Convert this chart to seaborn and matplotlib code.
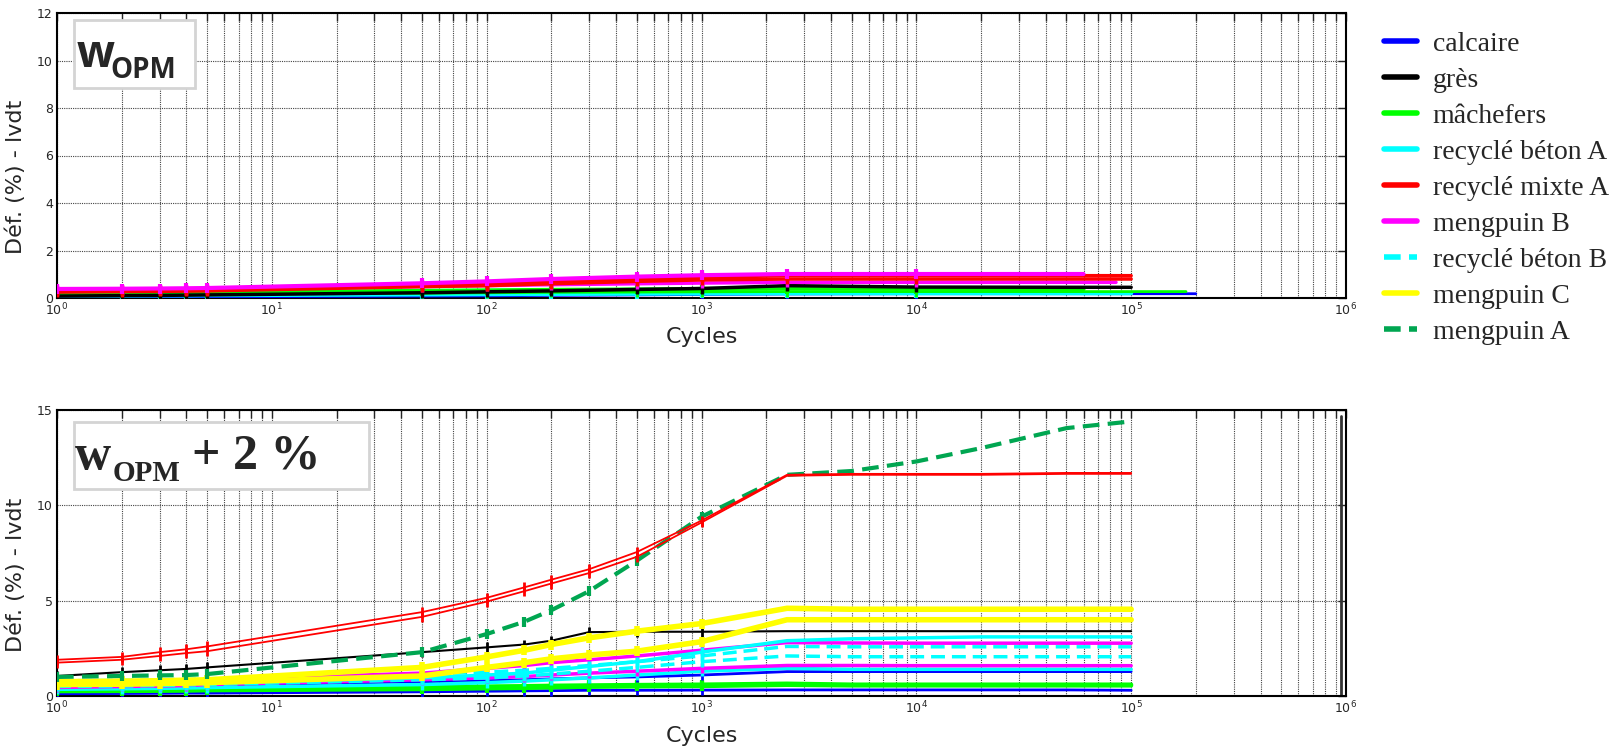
import numpy as np
import pandas as pd
import seaborn as sns
import matplotlib.pyplot as plt
from matplotlib.lines import Line2D
from matplotlib.patches import Rectangle
from matplotlib.ticker import LogLocator, NullFormatter

# --- legend / materials
MATERIALS = ["calcaire", "grès", "mâchefers", "recyclé béton A", "recyclé mixte A",
             "mengpuin B", "recyclé béton B", "mengpuin C", "mengpuin A"]
COLORS = ["#0000ff", "#000000", "#00ff00", "#00ffff", "#ff0000",
          "#ff00ff", "#00ffff", "#ffff00", "#00a651"]
DASHED = ["recyclé béton B", "mengpuin A"]

# --- top panel (w_OPM)
CYCLES_TOP = [1, 2, 3, 4, 5, 50, 100, 200, 500, 1000, 2500, 10000, 60000, 85000, 100000, 180000, 200000]
top_calcaire = [0.03, 0.04, 0.04, 0.05, 0.05, 0.08, 0.09, 0.11, 0.13, 0.15, 0.17, 0.18, 0.18, 0.18, 0.18, 0.18, 0.18]
top_gres = [0.08, 0.1, 0.11, 0.12, 0.13, 0.22, 0.26, 0.3, 0.36, 0.4, 0.52, 0.46, 0.45, 0.45, 0.45]
top_machefers_1 = [0.2, 0.21, 0.22, 0.22, 0.23, 0.3, 0.32, 0.34, 0.36, 0.38, 0.4, 0.39, 0.38]
top_machefers_2 = [0.14, 0.15, 0.15, 0.16, 0.16, 0.2, 0.22, 0.24, 0.25, 0.26, 0.27, 0.27, 0.27, 0.27, 0.27, 0.27]
top_beton_a = [0.1, 0.1, 0.11, 0.11, 0.12, 0.15, 0.16, 0.17, 0.18, 0.19, 0.2, 0.2, 0.2, 0.2, 0.2]
top_mixte_1 = [0.3, 0.32, 0.33, 0.34, 0.35, 0.55, 0.6, 0.7, 0.8, 0.87, 0.94, 0.94, 0.94, 0.94, 0.94]
top_mixte_2 = [0.25, 0.27, 0.28, 0.29, 0.3, 0.48, 0.52, 0.6, 0.7, 0.76, 0.8, 0.8, 0.8, 0.8, 0.8]
top_mengpuin_b_1 = [0.38, 0.39, 0.4, 0.41, 0.42, 0.62, 0.7, 0.8, 0.9, 0.96, 1.01, 1.01, 1.01]
top_mengpuin_b_2 = [0.32, 0.33, 0.34, 0.35, 0.36, 0.48, 0.52, 0.56, 0.6, 0.63, 0.66, 0.66, 0.66, 0.66]

# --- bottom panel (w_OPM + 2 %)
CYCLES_BOT = [1, 2, 3, 4, 5, 50, 100, 150, 200, 300, 500, 1000, 2500, 5000, 10000, 20000, 50000, 100000]
bot_calcaire_1 = [0.45, 0.48, 0.5, 0.52, 0.55, 0.75, 0.8, 0.85, 0.9, 0.95, 1.0, 1.1, 1.28, 1.28, 1.28, 1.28, 1.28, 1.28]
bot_calcaire_2 = [0.12, 0.13, 0.14, 0.15, 0.15, 0.22, 0.25, 0.27, 0.28, 0.3, 0.3, 0.31, 0.32, 0.32, 0.32, 0.32, 0.32, 0.3]
bot_gres = [1.05, 1.25, 1.35, 1.42, 1.5, 2.3, 2.55, 2.7, 2.9, 3.35, 3.37, 3.37, 3.4, 3.4, 3.4, 3.4, 3.4, 3.4]
bot_machefers_1 = [0.38, 0.39, 0.4, 0.41, 0.42, 0.48, 0.5, 0.52, 0.54, 0.56, 0.58, 0.6, 0.65, 0.6, 0.6, 0.6, 0.6, 0.6]
bot_machefers_2 = [0.25, 0.26, 0.27, 0.28, 0.3, 0.36, 0.4, 0.42, 0.45, 0.48, 0.5, 0.52, 0.58, 0.55, 0.55, 0.55, 0.55, 0.55]
bot_beton_a_1 = [0.55, 0.6, 0.62, 0.64, 0.66, 0.95, 1.1, 1.2, 1.35, 1.55, 1.8, 2.3, 2.9, 3.0, 3.05, 3.1, 3.1, 3.1]
bot_beton_a_2 = [0.35, 0.38, 0.4, 0.42, 0.44, 0.6, 0.7, 0.78, 0.85, 0.95, 1.1, 1.3, 1.45, 1.4, 1.4, 1.4, 1.4, 1.4]
bot_mixte_1 = [1.9, 2.05, 2.3, 2.45, 2.6, 4.4, 5.15, 5.7, 6.1, 6.65, 7.55, 9.2, 11.6, 11.65, 11.65, 11.65, 11.7, 11.7]
bot_mixte_2 = [1.75, 1.9, 2.1, 2.25, 2.35, 4.15, 4.95, 5.5, 5.9, 6.45, 7.3, 9.1, 11.55, 11.6, 11.6, 11.6, 11.65, 11.65]
bot_mengpuin_b_1 = [0.7, 0.75, 0.8, 0.82, 0.85, 1.2, 1.45, 1.6, 1.75, 1.9, 2.1, 2.4, 2.8, 2.78, 2.77, 2.77, 2.77, 2.77]
bot_mengpuin_b_2 = [0.45, 0.5, 0.52, 0.55, 0.6, 0.85, 0.95, 1.02, 1.1, 1.2, 1.3, 1.45, 1.6, 1.6, 1.59, 1.59, 1.59, 1.59]
bot_beton_b_1 = [0.8, 0.82, 0.85, 0.87, 0.9, 1.15, 1.25, 1.35, 1.45, 1.6, 1.8, 2.1, 2.6, 2.58, 2.58, 2.58, 2.58, 2.58]
bot_beton_b_2 = [0.5, 0.52, 0.55, 0.57, 0.6, 0.85, 0.95, 1.05, 1.15, 1.3, 1.5, 1.8, 2.1, 2.06, 2.06, 2.06, 2.06, 2.06]
bot_mengpuin_c_1 = [0.75, 0.78, 0.8, 0.83, 0.85, 1.5, 2.05, 2.4, 2.7, 3.05, 3.4, 3.8, 4.6, 4.55, 4.55, 4.55, 4.55, 4.55]
bot_mengpuin_c_2 = [0.6, 0.62, 0.65, 0.67, 0.7, 1.05, 1.5, 1.75, 1.95, 2.15, 2.35, 2.85, 4.0, 4.0, 4.0, 4.0, 4.0, 4.0]
bot_mengpuin_a = [1.0, 1.05, 1.08, 1.1, 1.15, 2.3, 3.25, 3.9, 4.5, 5.5, 7.1, 9.4, 11.6, 11.8, 12.3, 13.0, 14.05, 14.4]

# stray vertical trace near 1e6 in the bottom panel
ARTEFACT_X = [950000, 950000]
ARTEFACT_Y = [0, 14.7]

W, H = 1618, 749
sns.set_style("white")
plt.rcParams["font.family"] = ["DejaVu Sans"]

fig = plt.figure(figsize=(W / 100, H / 100), dpi=100)
ax_top = fig.add_axes([57 / W, 1 - 298 / H, 1289 / W, 285 / H])
ax_bot = fig.add_axes([57 / W, 1 - 696 / H, 1289 / W, 286 / H])

color_of = dict(zip(MATERIALS, COLORS))


def draw(ax, x, y, material, lw, n_mark=12, ms=7):
    ls = (0, (4, 2)) if material in DASHED else "-"
    c = color_of[material]
    sns.lineplot(x=x[:len(y)], y=y, ax=ax, color=c, lw=lw, linestyle=ls,
                 marker="|", markersize=ms, markeredgewidth=max(lw, 2), markeredgecolor=c,
                 markevery=slice(0, n_mark), estimator=None, sort=False, zorder=3)


# top panel
draw(ax_top, CYCLES_TOP, top_calcaire, "calcaire", 2)
draw(ax_top, CYCLES_TOP, top_beton_a, "recyclé béton A", 3)
draw(ax_top, CYCLES_TOP, top_machefers_2, "mâchefers", 2)
draw(ax_top, CYCLES_TOP, top_machefers_1, "mâchefers", 3)
draw(ax_top, CYCLES_TOP, top_gres, "grès", 2.5)
draw(ax_top, CYCLES_TOP, top_mengpuin_b_2, "mengpuin B", 2.5)
draw(ax_top, CYCLES_TOP, top_mixte_2, "recyclé mixte A", 2.5)
draw(ax_top, CYCLES_TOP, top_mixte_1, "recyclé mixte A", 2.5)
draw(ax_top, CYCLES_TOP, top_mengpuin_b_1, "mengpuin B", 3)

# bottom panel
draw(ax_bot, CYCLES_BOT, bot_calcaire_2, "calcaire", 2)
draw(ax_bot, CYCLES_BOT, bot_machefers_2, "mâchefers", 3)
draw(ax_bot, CYCLES_BOT, bot_machefers_1, "mâchefers", 3)
draw(ax_bot, CYCLES_BOT, bot_calcaire_1, "calcaire", 2)
draw(ax_bot, CYCLES_BOT, bot_beton_a_2, "recyclé béton A", 2.5)
draw(ax_bot, CYCLES_BOT, bot_mengpuin_b_2, "mengpuin B", 2.5)
draw(ax_bot, CYCLES_BOT, bot_beton_b_2, "recyclé béton B", 2.5)
draw(ax_bot, CYCLES_BOT, bot_beton_b_1, "recyclé béton B", 2.5)
draw(ax_bot, CYCLES_BOT, bot_mengpuin_b_1, "mengpuin B", 2.5)
draw(ax_bot, CYCLES_BOT, bot_beton_a_1, "recyclé béton A", 2.5)
draw(ax_bot, CYCLES_BOT, bot_gres, "grès", 1.5)
draw(ax_bot, CYCLES_BOT, bot_mengpuin_c_2, "mengpuin C", 4)
draw(ax_bot, CYCLES_BOT, bot_mengpuin_c_1, "mengpuin C", 4)
draw(ax_bot, CYCLES_BOT, bot_mengpuin_a, "mengpuin A", 3)
draw(ax_bot, CYCLES_BOT, bot_mixte_2, "recyclé mixte A", 1.3)
draw(ax_bot, CYCLES_BOT, bot_mixte_1, "recyclé mixte A", 1.3)
sns.lineplot(x=ARTEFACT_X, y=ARTEFACT_Y, ax=ax_bot, color="#333333", lw=2,
             estimator=None, sort=False)

for ax, ymax, ystep, pad in [(ax_top, 12, 2, 6), (ax_bot, 15, 5, 7)]:
    ax.set_xscale("log")
    ax.set_xlim(1, 1e6)
    ax.set_ylim(0, ymax)
    ax.set_yticks(np.arange(0, ymax + 0.1, ystep))
    ax.xaxis.set_major_locator(LogLocator(base=10, numticks=10))
    ax.xaxis.set_minor_locator(LogLocator(base=10, subs=np.arange(2, 10), numticks=100))
    ax.xaxis.set_minor_formatter(NullFormatter())
    ax.grid(True, which="major", color="#444444", linestyle=(0, (1, 1)), lw=0.8)
    ax.grid(True, which="minor", axis="x", color="#444444", linestyle=(0, (1, 1)), lw=0.8)
    ax.tick_params(which="both", direction="in", top=True, right=True, length=6,
                   width=1, labelsize=9, pad=3)
    for s in ax.spines.values():
        s.set_color("black")
        s.set_linewidth(1.5)
    ax.set_xlabel("Cycles", fontsize=16, labelpad=pad)
    ax.set_ylabel("Déf. (%) - lvdt", fontsize=16)
    ax.yaxis.set_label_coords(-0.024, 0.425)

# label boxes
ax_top.add_patch(Rectangle((0.013, 0.737), 0.094, 0.238, transform=ax_top.transAxes,
                           facecolor="white", edgecolor="#d4d4d4", lw=2, zorder=5))
ax_bot.add_patch(Rectangle((0.013, 0.724), 0.229, 0.234, transform=ax_bot.transAxes,
                           facecolor="white", edgecolor="#d4d4d4", lw=2, zorder=5))


def ftext(x, y, s, **kw):
    fig.text(x / W, 1 - y / H, s, va="baseline", ha="left", zorder=6, **kw)


ftext(77, 67, "w", fontsize=32, fontweight="bold", family="Open Sans")
ftext(110, 78, "OPM", fontsize=20, fontweight="bold", family="Open Sans")
ftext(75, 469, "w", fontsize=36, fontweight="bold", family="Liberation Serif")
ftext(113, 481, "OPM", fontsize=21, fontweight="bold", family="Liberation Serif")
ftext(192, 469, "+ 2 %", fontsize=36, fontweight="bold", family="Liberation Serif")

# legend
handles = [Line2D([0], [0], color=c, lw=4,
                  linestyle=(0, (3, 1.5)) if m in DASHED else "-")
           for m, c in zip(MATERIALS, COLORS)]
fig.legend(handles, MATERIALS, loc="upper left", bbox_to_anchor=(1373 / W, 1 - 20 / H),
           frameon=False, prop={"family": "Liberation Serif", "size": 20},
           handlelength=1.2, handletextpad=0.55, labelspacing=0.38, borderaxespad=0)

fig.savefig("out.png", dpi=100)
